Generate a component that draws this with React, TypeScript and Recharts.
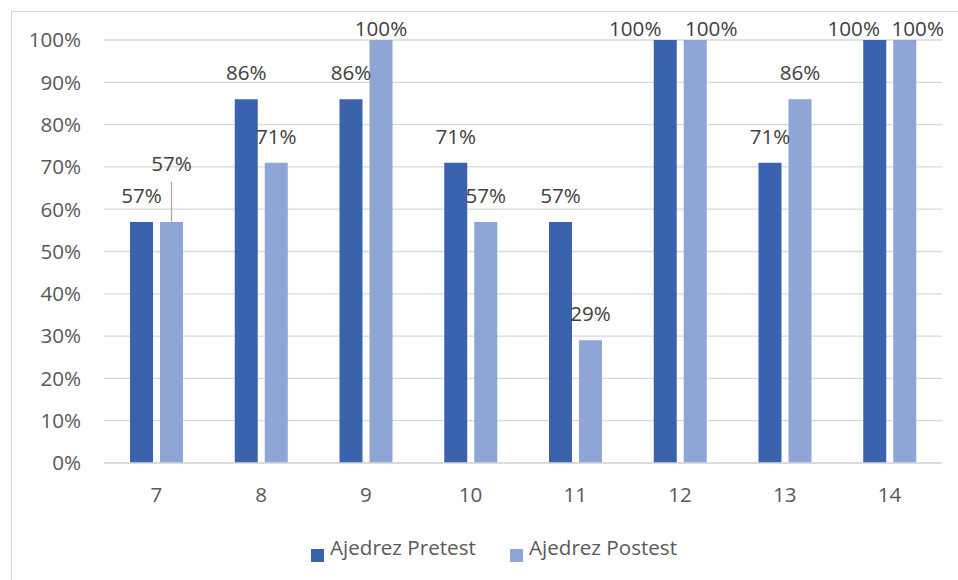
import { BarChart, Bar, XAxis, YAxis, CartesianGrid, LabelList } from 'recharts';

const grades = ['7', '8', '9', '10', '11', '12', '13', '14'];
const pretest = [57, 86, 86, 71, 57, 100, 71, 100];
const postest = [57, 71, 100, 57, 29, 100, 86, 100];
const yTicks = [0, 10, 20, 30, 40, 50, 60, 70, 80, 90, 100];

const DARK = '#3B63AD';
const LIGHT = '#8FA5D5';
const FONT = '"Open Sans", "Noto Sans", sans-serif';
const FS = 20.6;

const data = grades.map((g, i) => ({ grade: g, pre: pretest[i], post: postest[i] }));

// manual label nudges, like the hand-moved labels in the original sheet
const nudgePre: Record<number, number> = { 5: -30, 7: -21 };
const nudgePost: Record<number, number> = { 5: 16, 7: 13 };
const LEADER_INDEX = 0;

function makeLabel(series: 'pre' | 'post') {
  return (props: any) => {
    const { x, y, width, value, index } = props;
    const nudge = (series === 'pre' ? nudgePre : nudgePost)[index] ?? 0;
    const cx = Number(x) + Number(width) / 2;
    const top = Number(y);
    const leader = series === 'post' && index === LEADER_INDEX;
    const lift = leader ? 58 : value >= 100 ? 11 : 26;
    const cy = top - lift;
    return (
      <g>
        {leader && (
          <line x1={cx} x2={cx} y1={cy + 18} y2={top} stroke="#a6a6a6" strokeWidth={1.2} />
        )}
        <text
          x={cx + nudge}
          y={cy + 7}
          textAnchor="middle"
          fill="#404040"
          fontSize={FS}
          fontFamily={FONT}
        >
          {`${value}%`}
        </text>
      </g>
    );
  };
}

export default function App() {
  return (
    <div
      style={{
        position: 'absolute',
        left: 0,
        top: 0,
        width: 958,
        height: 580,
        overflow: 'hidden',
        background: '#fff',
      }}
    >
      <div
        style={{
          position: 'absolute',
          left: 11,
          top: 11,
          width: 1200,
          height: 1200,
          border: '1px solid #d4d4d4',
        }}
      />
      <BarChart
        width={958}
        height={580}
        data={data}
        margin={{ top: 40, right: 16, left: 10, bottom: 77 }}
        barSize={23}
        barGap={7}
        style={{ position: 'absolute', left: 0, top: 0 }}
      >
        <CartesianGrid vertical={false} stroke="#d9d9d9" strokeWidth={1.3} />
        <XAxis
          dataKey="grade"
          height={40}
          tickLine={false}
          tickSize={0}
          tickMargin={24}
          axisLine={{ stroke: '#d9d9d9', strokeWidth: 1.3 }}
          tick={{ fill: '#595959', fontSize: FS, fontFamily: FONT }}
        />
        <YAxis
          width={94}
          domain={[0, 100]}
          ticks={yTicks}
          interval={0}
          tickLine={false}
          axisLine={false}
          tickSize={0}
          tickMargin={23}
          tickFormatter={(v) => `${v}%`}
          tick={{ fill: '#595959', fontSize: FS, fontFamily: FONT }}
        />
        <Bar dataKey="pre" name="Ajedrez Pretest" fill={DARK} isAnimationActive={false}>
          <LabelList dataKey="pre" content={makeLabel('pre')} />
        </Bar>
        <Bar dataKey="post" name="Ajedrez Postest" fill={LIGHT} isAnimationActive={false}>
          <LabelList dataKey="post" content={makeLabel('post')} />
        </Bar>
      </BarChart>
      <svg
        width={958}
        height={580}
        style={{ position: 'absolute', left: 0, top: 0, pointerEvents: 'none' }}
      >
        <rect x={311} y={549} width={13} height={13} fill={DARK} />
        <text x={330} y={555} fill="#595959" fontSize={FS} fontFamily={FONT}>
          Ajedrez Pretest
        </text>
        <rect x={510} y={549} width={13} height={13} fill={LIGHT} />
        <text x={529} y={555} fill="#595959" fontSize={FS} fontFamily={FONT}>
          Ajedrez Postest
        </text>
      </svg>
    </div>
  );
}
